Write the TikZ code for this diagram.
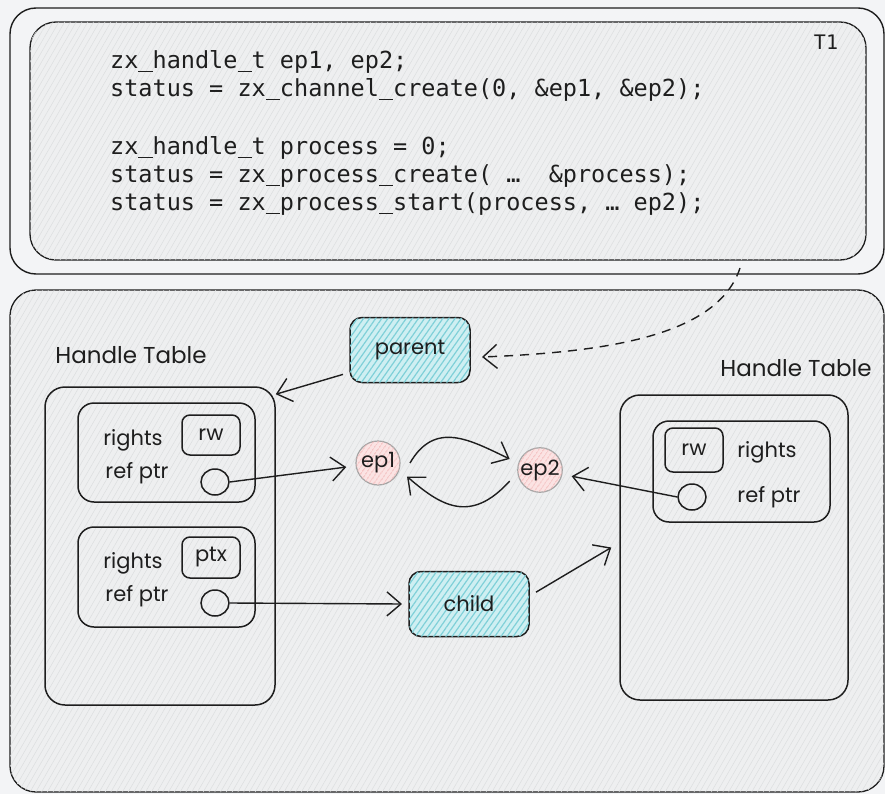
\documentclass[tikz,border=0pt]{standalone}
\usepackage{fontspec}
\setmainfont{Poppins}
\newfontfamily\codefont{DejaVu Sans Mono}
\newfontfamily\handfont{Poppins}
\usetikzlibrary{arrows.meta,patterns.meta,calc,shapes.geometric}

% underscore drawn as a solid bar one monospace cell wide
\newcommand\us{\makebox[\fontcharwd\font`0][c]{\rule[-3.5pt]{\fontcharwd\font`0}{1.6pt}}}

\definecolor{pagebg}{HTML}{F3F4F6}
\definecolor{panelbg}{HTML}{EEEFF0}
\definecolor{panelline}{HTML}{DCDEDF}
\definecolor{ink}{HTML}{1E1E1E}
\definecolor{cyanbg}{HTML}{CFEFF2}
\definecolor{cyanline}{HTML}{7FD0D8}
\definecolor{redbg}{HTML}{FBE3E3}
\definecolor{redline}{HTML}{F2B5B5}

\tikzset{
  panel/.style={draw=ink, line width=1.3pt, rounded corners=26pt, fill=panelbg,
    postaction={pattern={Lines[angle=60,distance=5pt,line width=0.5pt]}, pattern color=panelline}},
  tbl/.style={draw=ink, line width=1.5pt, rounded corners=20pt, inner sep=0pt},
  entry/.style={draw=ink, line width=1.5pt, rounded corners=16pt, inner sep=0pt},
  valbox/.style={draw=ink, line width=1.5pt, rounded corners=8pt, inner sep=0pt,
    font=\handfont\fontsize{21}{23}\selectfont, text=ink},
  ptr/.style={draw=ink, line width=1.5pt, ellipse, minimum width=28pt, minimum height=26pt, inner sep=0pt},
  hand/.style={font=\handfont\fontsize{21}{24}\selectfont, text=ink, inner sep=0pt},
  code/.style={font=\codefont\fontsize{23.5}{28}\selectfont, text=ink, anchor=base west, inner sep=0pt},
  procbox/.style={draw=ink, line width=1.5pt, rounded corners=12pt, fill=cyanbg,
    postaction={pattern={Lines[angle=55,distance=5pt,line width=1.2pt]}, pattern color=cyanline},
    minimum width=120pt, minimum height=65pt, inner sep=0pt, outer sep=7pt,
    font=\handfont\fontsize{21}{24}\selectfont, text=ink},
  epnode/.style={circle, draw=ink!40, line width=1.2pt, fill=redbg,
    postaction={pattern={Lines[angle=55,distance=4pt,line width=1pt]}, pattern color=redline},
    minimum size=44pt, inner sep=0pt, outer sep=10pt,
    font=\handfont\fontsize{21}{22}\selectfont, text=ink},
  arr/.style={draw=ink, line width=1.4pt, -{Straight Barb[length=14pt,width=24pt,line width=1.4pt]}},
}

\begin{document}
\begin{tikzpicture}[x=1pt,y=1pt]
  \useasboundingbox (0,0) rectangle (885,-794);
  \fill[pagebg] (0,0) rectangle (885,-794);

  % thread frame with the code listing
  \draw[ink, line width=1.4pt, rounded corners=26pt] (10,-8) rectangle (884,-274);
  \path[panel] (30,-22) rectangle (866,-260);
  \node[font=\codefont\fontsize{20}{22}\selectfont, text=ink] (t1) at (826,-42) {T1};
  \node[code] (c1) at (110,-69) {zx\us handle\us t ep1, ep2;};
  \node[code] (c2) at (110,-97) {status = zx\us channel\us create(0, \&ep1, \&ep2);};
  \node[code] (c3) at (110,-155) {zx\us handle\us t process = 0;};
  \node[code] (c4) at (110,-183) {status = zx\us process\us create( …\ \ \&process);};
  \node[code] (c5) at (110,-211) {status = zx\us process\us start(process, … ep2);};

  % kernel panel
  \path[panel] (10,-290) rectangle (884,-792);

  % left handle table
  \node[hand, font=\handfont\fontsize{23}{26}\selectfont] (lbl1) at (131,-355) {Handle Table};
  \node[tbl, minimum width=230pt, minimum height=318pt] (lt) at (160,-546) {};
  \node[entry, minimum width=177pt, minimum height=99pt] (le1) at (166.5,-452.5) {};
  \node[valbox, minimum width=58pt, minimum height=40pt] (rw1) at (211,-435) {rw};
  \node[hand] (rg1) at (133,-440) {rights};
  \node[hand] (rp1) at (137,-473) {ref ptr};
  \node[ptr] (ptr1) at (215,-482) {};

  \node[entry, minimum width=177pt, minimum height=100pt] (le2) at (166.5,-577) {};
  \node[valbox, minimum width=58pt, minimum height=41pt] (ptx) at (211,-557.5) {ptx};
  \node[hand] (rg2) at (133,-563) {rights};
  \node[hand] (rp2) at (137,-596) {ref ptr};
  \node[ptr] (ptr2) at (215,-603) {};

  % right handle table
  \node[hand, font=\handfont\fontsize{23}{26}\selectfont] (lbl2) at (796,-368) {Handle Table};
  \node[tbl, minimum width=228pt, minimum height=305pt] (rt) at (734,-547.5) {};
  \node[entry, minimum width=177pt, minimum height=101pt] (re1) at (741.5,-471.5) {};
  \node[valbox, minimum width=58pt, minimum height=44pt] (rw2) at (694,-450) {rw};
  \node[hand] (rg3) at (767,-452) {rights};
  \node[hand] (rp3) at (769,-497) {ref ptr};
  \node[ptr] (ptr3) at (692,-497) {};

  % processes and channel endpoints
  \node[procbox] (parent) at (410,-350) {parent};
  \node[procbox] (child) at (469,-604) {child};
  \node[epnode] (ep1) at (378,-463) {ep1};
  \node[epnode] (ep2) at (540,-470) {ep2};

  % connectors
  \coordinate (dstart) at (740,-268);
  \draw[arr, dashed, dash pattern=on 9pt off 7pt]
    (dstart) .. controls (718,-335) and (610,-352) .. ($(parent.east)+(5,-7)$);
  \draw[arr] (parent.200) -- ($(lt.north east)+(0,-8)$);
  \draw[arr] (ptr1.east) -- (ep1);
  \draw[arr] (ptr2.east) -- (child.west);
  \draw[arr] (child.10) -- ($(rt.west)+(-8,0)$);
  \draw[arr] (ep1.east) .. controls (435,-420) and (470,-440) .. (ep2.160);
  \draw[arr] (ep2.200) .. controls (470,-525) and (440,-505) .. (ep1.-25);
  \draw[arr] (ptr3.west) -- (ep2);
\end{tikzpicture}
\end{document}
